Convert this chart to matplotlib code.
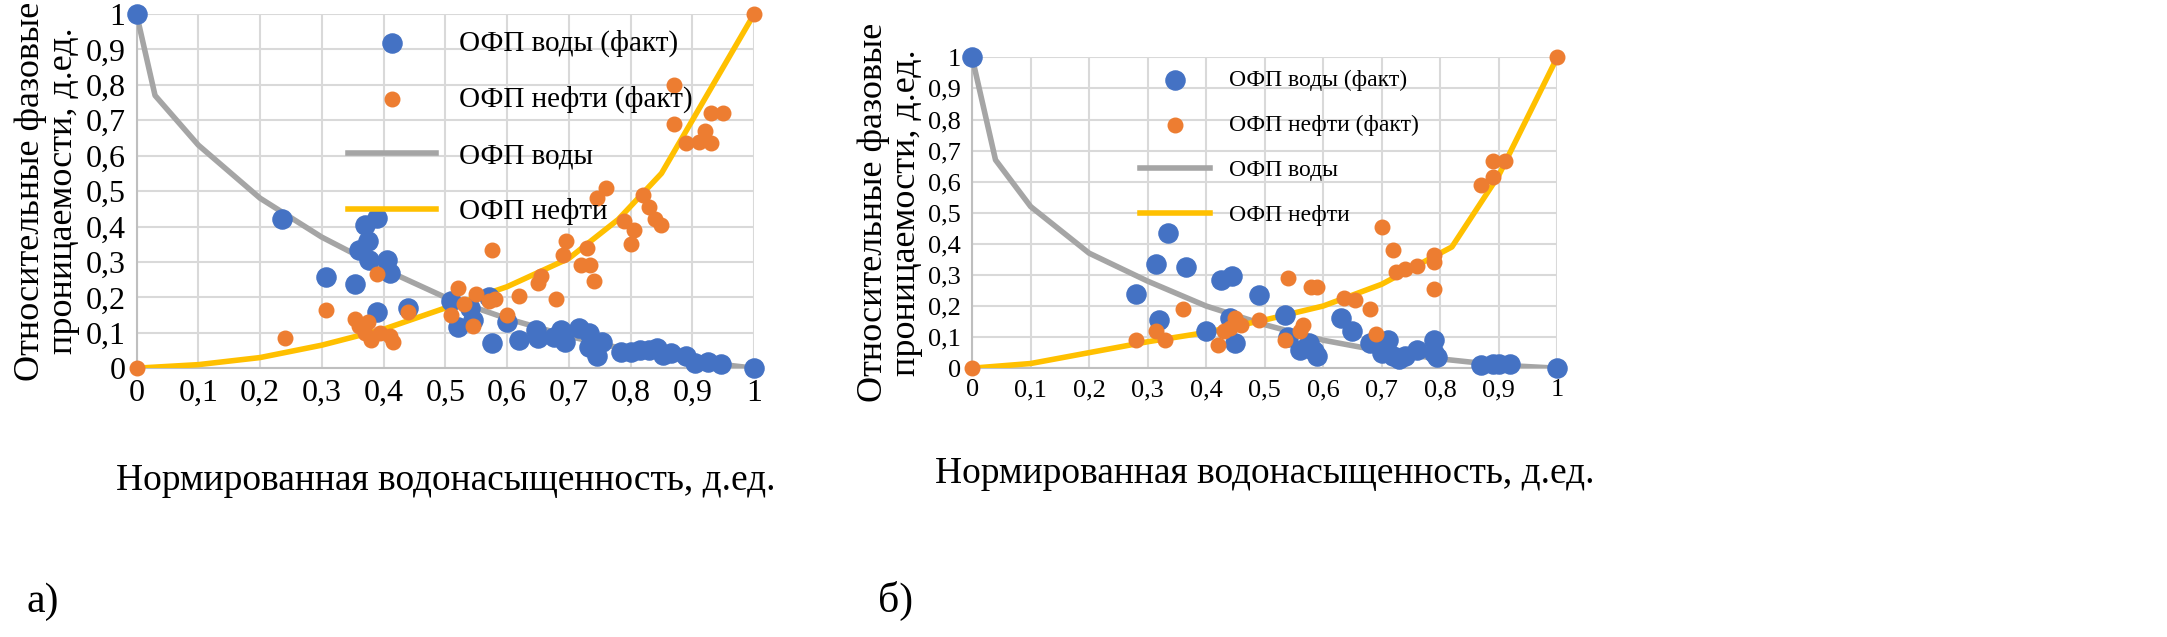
import matplotlib.pyplot as plt

plt.rcParams['font.family'] = ['Liberation Serif', 'DejaVu Serif']

# panel a
a_curve_x = [0, 0.03, 0.1, 0.2, 0.3, 0.4, 0.5, 0.6, 0.7, 0.8, 0.9, 1]
a_water = [1, 0.77, 0.63, 0.48, 0.37, 0.28, 0.2, 0.14, 0.09, 0.05, 0.02, 0]
a_oil_x = [0, 0.1, 0.2, 0.3, 0.4, 0.5, 0.6, 0.7, 0.78, 0.85, 0.9, 1]
a_oil = [0, 0.01, 0.03, 0.065, 0.11, 0.17, 0.23, 0.31, 0.42, 0.55, 0.7, 1]
a_bw = [(0, 1), (0.236, 0.42), (0.306, 0.257), (0.354, 0.237), (0.36, 0.333), (0.37, 0.404),
        (0.374, 0.36), (0.377, 0.305), (0.39, 0.424), (0.39, 0.16), (0.406, 0.305), (0.41, 0.27),
        (0.44, 0.17), (0.51, 0.19), (0.52, 0.115), (0.54, 0.17), (0.545, 0.135), (0.57, 0.2),
        (0.575, 0.07), (0.6, 0.13), (0.62, 0.08), (0.647, 0.107), (0.65, 0.085), (0.676, 0.088),
        (0.687, 0.107), (0.694, 0.073), (0.717, 0.113), (0.733, 0.1), (0.733, 0.06), (0.745, 0.035),
        (0.754, 0.074), (0.785, 0.045), (0.8, 0.045), (0.815, 0.05), (0.83, 0.05), (0.843, 0.057),
        (0.853, 0.037), (0.866, 0.042), (0.89, 0.034), (0.905, 0.014), (0.925, 0.017),
        (0.946, 0.011), (1, 0)]
a_bo = [(0, 0), (0.24, 0.085), (0.307, 0.165), (0.354, 0.14), (0.36, 0.12), (0.37, 0.1),
        (0.375, 0.13), (0.38, 0.08), (0.39, 0.265), (0.395, 0.1), (0.41, 0.09), (0.415, 0.075),
        (0.44, 0.16), (0.51, 0.15), (0.52, 0.225), (0.53, 0.18), (0.545, 0.12), (0.55, 0.21),
        (0.57, 0.19), (0.575, 0.335), (0.58, 0.195), (0.6, 0.15), (0.62, 0.205), (0.65, 0.24),
        (0.655, 0.26), (0.68, 0.195), (0.69, 0.32), (0.695, 0.36), (0.72, 0.29), (0.73, 0.34),
        (0.735, 0.29), (0.74, 0.245), (0.745, 0.48), (0.76, 0.51), (0.79, 0.415), (0.8, 0.35),
        (0.805, 0.39), (0.82, 0.49), (0.83, 0.455), (0.84, 0.42), (0.85, 0.405), (0.87, 0.8),
        (0.87, 0.69), (0.89, 0.635), (0.91, 0.64), (0.92, 0.67), (0.93, 0.72), (0.93, 0.635),
        (0.95, 0.72), (1, 1)]

# panel b
b_curve_x = [0, 0.04, 0.1, 0.2, 0.3, 0.4, 0.5, 0.6, 0.7, 0.8, 0.9, 1]
b_water = [1, 0.67, 0.52, 0.37, 0.28, 0.2, 0.14, 0.09, 0.055, 0.03, 0.01, 0]
b_oil_x = [0, 0.1, 0.2, 0.3, 0.4, 0.5, 0.6, 0.7, 0.8, 0.82, 0.9, 1]
b_oil = [0, 0.015, 0.05, 0.085, 0.115, 0.155, 0.2, 0.27, 0.37, 0.39, 0.62, 1]
b_bw = [(0, 1), (0.28, 0.24), (0.315, 0.335), (0.32, 0.155), (0.335, 0.435), (0.365, 0.325),
        (0.4, 0.12), (0.425, 0.285), (0.44, 0.16), (0.445, 0.295), (0.45, 0.08), (0.49, 0.235),
        (0.535, 0.17), (0.54, 0.1), (0.56, 0.06), (0.575, 0.08), (0.585, 0.055), (0.59, 0.04),
        (0.63, 0.16), (0.65, 0.12), (0.68, 0.08), (0.7, 0.05), (0.71, 0.09), (0.72, 0.04),
        (0.73, 0.03), (0.74, 0.04), (0.76, 0.06), (0.79, 0.09), (0.79, 0.05), (0.795, 0.035),
        (0.87, 0.01), (0.89, 0.012), (0.9, 0.015), (0.92, 0.012), (1, 0)]
b_bo = [(0, 0), (0.28, 0.09), (0.315, 0.12), (0.33, 0.09), (0.36, 0.19), (0.42, 0.075),
        (0.43, 0.12), (0.44, 0.13), (0.45, 0.16), (0.46, 0.14), (0.49, 0.155), (0.535, 0.09),
        (0.54, 0.29), (0.56, 0.12), (0.565, 0.14), (0.58, 0.26), (0.59, 0.26), (0.635, 0.225),
        (0.655, 0.22), (0.68, 0.19), (0.69, 0.11), (0.7, 0.455), (0.72, 0.38), (0.725, 0.31),
        (0.74, 0.32), (0.76, 0.33), (0.79, 0.365), (0.79, 0.34), (0.79, 0.255), (0.87, 0.59),
        (0.89, 0.665), (0.89, 0.615), (0.91, 0.665), (1, 1)]

ticks = [i / 10 for i in range(11)]
tick_labels = ['0' if t == 0 else ('1' if t == 1 else f'{t:.1f}'.replace('.', ',')) for t in ticks]

fig = plt.figure(figsize=(21.67, 6.37), dpi=100)
ax1 = fig.add_axes([0.063, 0.422, 0.285, 0.556])
ax2 = fig.add_axes([0.4486, 0.422, 0.270, 0.488])

panels = [
    (ax1, a_curve_x, a_water, a_oil_x, a_oil, a_bw, a_bo, 23, 'а)', 0.012, (0.3, 1.03)),
    (ax2, b_curve_x, b_water, b_oil_x, b_oil, b_bw, b_bo, 19, 'б)', 0.405, (0.25, 1.03)),
]
for ax, cx, cw, ox, co, bw, bo, fs, lab, lx, lpos in panels:
    ax.scatter([p[0] for p in bw], [p[1] for p in bw], s=190, color='#4472C4', zorder=4,
               clip_on=False, label='ОФП воды (факт)')
    ax.scatter([p[0] for p in bo], [p[1] for p in bo], s=110, color='#ED7D31', zorder=4,
               clip_on=False, label='ОФП нефти (факт)')
    ax.plot(cx, cw, color='#A5A5A5', lw=4, zorder=3, label='ОФП воды')
    ax.plot(ox, co, color='#FFC000', lw=4, zorder=3, label='ОФП нефти')
    ax.set_xlim(0, 1)
    ax.set_ylim(0, 1)
    ax.set_xticks(ticks)
    ax.set_xticklabels(tick_labels, fontsize=fs)
    ax.set_yticks(ticks)
    ax.set_yticklabels(tick_labels, fontsize=fs)
    ax.tick_params(length=0, pad=8)
    ax.grid(color='#D9D9D9', lw=1.5)
    ax.set_axisbelow(True)
    for s in ['top', 'right']:
        ax.spines[s].set_visible(False)
    for s in ['left', 'bottom']:
        ax.spines[s].set_color('#BFBFBF')
        ax.spines[s].set_linewidth(1.5)
    ax.set_xlabel('Нормированная водонасыщенность, д.ед.', fontsize=27, labelpad=40)
    ax.set_ylabel('Относительные фазовые\nпроницаемости, д.ед.', fontsize=26, labelpad=4,
                  linespacing=1.0)
    ax.legend(loc='upper left', bbox_to_anchor=lpos, frameon=False, fontsize=fs - 2,
              handlelength=3, labelspacing=1.0)
    fig.text(lx, 0.04, lab, fontsize=30)

fig.savefig('out.png', dpi=100)
